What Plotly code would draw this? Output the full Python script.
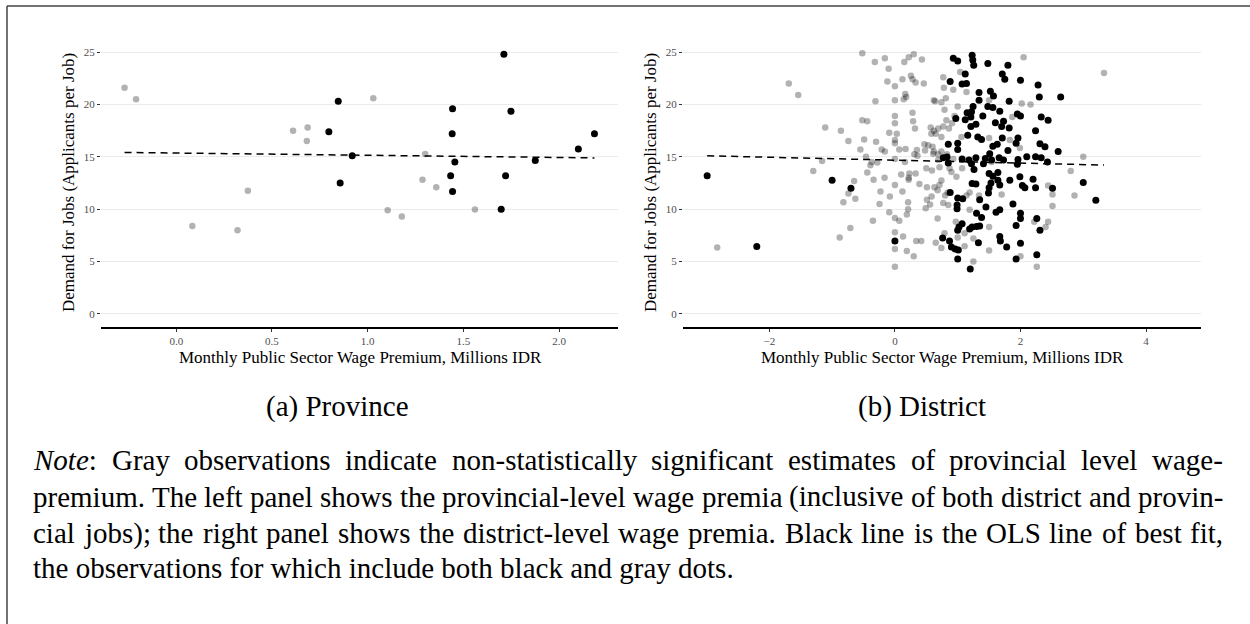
import plotly.graph_objects as go

# ---------------- data ----------------
# (a) Province
prov_gray_x = [-0.27, -0.21, 0.084, 0.32, 0.374, 0.61, 0.686, 0.682, 1.029, 1.104, 1.178, 1.30, 1.286, 1.358, 1.56]
prov_gray_y = [21.6, 20.5, 8.4, 8.0, 11.75, 17.5, 17.8, 16.5, 20.6, 9.9, 9.3, 15.26, 12.8, 12.1, 9.96]
prov_black_x = [0.846, 0.797, 0.919, 0.856, 1.443, 1.441, 1.455, 1.433, 1.443, 1.711, 1.748, 1.72, 1.697, 1.875, 2.10, 2.184]
prov_black_y = [20.3, 17.4, 15.1, 12.5, 19.6, 17.2, 14.5, 13.2, 11.7, 24.8, 19.35, 13.2, 10.0, 14.65, 15.75, 17.2]
prov_fit = [15.36, -0.212]   # intercept, slope

# (b) District
dist_gray = [
    (-2.83, 6.35), (-1.69, 22.0), (-1.54, 20.9), (-1.11, 17.8), (-1.16, 14.6), (-1.30, 13.65), (-0.86, 17.5),
    (-0.74, 16.5), (-0.82, 10.65), (-0.74, 11.5), (-0.65, 12.7), (-0.63, 11.0), (-0.71, 8.2), (-0.88, 7.3),
    (-0.52, 24.9), (-0.55, 15.7), (-0.49, 16.65), (-0.52, 18.5), (-0.44, 18.4), (-0.46, 15.0), (-0.44, 13.5),
    (-0.39, 14.2), (-0.37, 14.5), (-0.34, 12.8), (-0.31, 20.3), (-0.32, 24.05), (-0.30, 16.45), (-0.28, 14.45),
    (-0.23, 11.7), (-0.245, 10.5), (-0.35, 8.9), (-0.16, 24.4), (-0.10, 23.4), (-0.12, 22.2), (-0.21, 15.7),
    (-0.16, 15.5), (-0.165, 13.0), (-0.08, 11.2), (-0.09, 9.7), (-0.09, 17.3), (0.0, 21.75), (0.0, 20.4),
    (0.0, 18.9), (0.0, 18.2), (0.03, 17.2), (0.0, 16.6), (0.0, 16.3), (0.0, 14.8), (0.0, 12.3), (0.0, 9.15),
    (0.07, 8.9), (0.0, 7.8), (0.0, 6.2), (0.0, 4.5), (0.13, 7.4), (0.07, 15.7), (0.10, 13.3), (0.12, 11.7),
    (0.17, 15.75), (0.16, 14.5), (0.19, 9.5), (0.21, 10.0), (0.21, 10.65), (0.12, 22.4), (0.15, 24.05),
    (0.22, 24.5), (0.30, 24.8), (0.255, 22.75), (0.28, 22.4), (0.33, 22.1), (0.43, 24.3), (0.46, 22.0),
    (0.165, 21.0), (0.14, 20.5), (0.18, 20.7), (0.28, 19.2), (0.29, 18.4), (0.32, 17.7), (0.23, 13.4),
    (0.22, 13.0), (0.22, 12.8), (0.33, 13.4), (0.31, 15.25), (0.35, 15.65), (0.36, 15.1), (0.39, 12.4),
    (0.19, 6.0), (0.30, 5.5), (0.34, 6.95), (0.42, 6.95), (0.48, 15.6), (0.47, 16.2), (0.53, 16.1),
    (0.57, 17.8), (0.62, 20.4), (0.64, 20.3), (0.50, 13.9), (0.51, 12.1), (0.51, 10.9), (0.49, 10.1),
    (0.56, 10.45), (0.62, 17.5), (0.58, 17.2), (0.61, 15.3), (0.59, 13.7), (0.69, 14.7), (0.68, 11.8),
    (0.68, 9.1), (0.65, 6.8), (0.585, 11.2),
    (2.05, 24.5), (3.33, 23.0), (1.04, 23.1), (0.77, 22.6), (0.78, 21.6), (0.93, 21.4), (0.81, 20.6),
    (0.74, 20.2), (1.14, 21.2), (0.79, 19.5), (1.0, 19.8), (1.50, 20.4), (2.02, 20.1), (2.16, 20.0),
    (1.87, 18.8), (0.95, 18.9), (0.91, 18.2), (0.82, 18.5), (0.77, 17.9), (0.69, 17.7), (0.65, 17.2),
    (0.86, 17.7), (1.06, 16.9), (0.74, 16.9), (1.50, 16.8), (1.83, 16.6), (1.99, 15.85), (0.60, 15.95),
    (0.62, 15.5), (0.74, 15.5), (0.69, 15.25), (0.83, 15.25), (0.93, 14.8), (1.54, 14.5), (3.0, 15.0),
    (2.80, 13.65), (2.86, 11.3), (0.71, 14.0), (0.87, 13.9), (0.90, 13.55), (0.98, 13.1), (1.07, 13.9),
    (0.74, 12.75), (0.71, 12.3), (0.63, 12.1), (0.84, 11.6), (0.80, 11.3), (0.77, 10.6), (0.85, 10.4),
    (1.19, 11.6), (1.14, 11.3), (1.34, 11.3), (1.70, 11.4), (2.44, 12.25), (2.51, 11.4), (2.51, 10.3),
    (1.19, 9.95), (0.97, 8.8), (1.50, 8.3), (2.44, 8.8), (2.40, 8.3), (2.22, 8.8), (0.79, 7.7), (0.74, 6.3),
    (1.0, 7.3), (1.11, 7.7), (1.25, 7.2), (1.11, 6.45), (1.50, 6.05), (1.25, 5.0), (2.0, 5.5), (2.26, 4.5),
]
dist_black = [
    (-2.99, 13.2), (-2.2, 6.44), (-1.0, 12.76), (-0.70, 12.0), (0.0, 6.95),
    (0.93, 24.4), (1.0, 24.15), (1.23, 24.7), (1.24, 24.25), (1.255, 23.75), (1.48, 23.9), (1.80, 23.75),
    (1.71, 22.9), (1.75, 22.4), (2.0, 22.3), (2.28, 21.85), (2.30, 20.7), (2.64, 20.7), (0.88, 22.2),
    (1.07, 21.95), (1.14, 22.0), (1.12, 22.9), (1.34, 21.15), (1.52, 21.25), (1.57, 20.8), (1.34, 20.4),
    (1.82, 20.3), (1.245, 19.8), (1.22, 19.3), (1.48, 19.8), (1.56, 19.7), (1.67, 19.35), (1.15, 19.2),
    (1.12, 18.55), (0.97, 18.65), (1.21, 18.8), (1.40, 18.9), (1.95, 19.1), (2.0, 18.9), (2.33, 18.8),
    (2.44, 18.5), (1.21, 17.9), (1.29, 18.1), (1.60, 18.25), (1.73, 18.4), (1.70, 17.9), (1.82, 17.75),
    (2.24, 17.5), (1.16, 17.05), (1.32, 16.9), (1.38, 16.65), (1.71, 16.8), (1.96, 16.8), (1.93, 16.3),
    (1.0, 16.3), (0.85, 16.2), (1.63, 16.2), (1.56, 16.0), (1.80, 15.6), (2.31, 16.25), (2.39, 15.95),
    (2.60, 15.5), (1.0, 15.7), (1.51, 15.3), (0.77, 14.9), (0.83, 14.99), (0.85, 14.4), (1.07, 14.8),
    (1.18, 14.7), (1.22, 14.35), (1.29, 14.9), (1.44, 14.85), (1.41, 14.35), (1.54, 14.7), (1.66, 14.9),
    (1.73, 14.7), (1.96, 14.75), (1.95, 14.3), (2.10, 15.0), (2.24, 15.0), (2.33, 14.9), (2.43, 14.5),
    (1.26, 13.8), (1.50, 13.4), (1.56, 13.15), (1.64, 13.5), (1.83, 12.76), (1.99, 13.1), (2.03, 12.25),
    (2.07, 12.05), (2.20, 12.85), (2.24, 12.05), (1.23, 12.45), (1.29, 12.4), (1.53, 12.5), (1.50, 12.05),
    (1.49, 11.55), (1.64, 12.76), (1.67, 12.3), (2.51, 12.0), (3.0, 12.55), (3.20, 10.85), (0.88, 11.6),
    (1.0, 11.07), (1.08, 11.0), (1.35, 10.9), (0.99, 10.4), (0.99, 10.05), (1.45, 10.2), (1.88, 10.5),
    (1.61, 9.7), (1.67, 9.95), (1.30, 9.6), (1.38, 9.2), (2.0, 9.6), (2.0, 9.1), (2.26, 9.1), (1.93, 8.45),
    (2.31, 8.0), (1.02, 8.3), (1.07, 8.6), (1.0, 8.0), (1.19, 8.1), (1.23, 8.3), (1.30, 8.35), (1.35, 8.4),
    (0.76, 7.25), (0.87, 6.95), (0.90, 6.4), (0.96, 6.2), (1.01, 6.1), (1.33, 6.8), (1.67, 7.4), (1.68, 6.95),
    (1.78, 6.4), (2.0, 6.75), (1.0, 5.25), (1.20, 4.3), (1.93, 5.25), (2.26, 5.65),
]
dist_fit = [14.68, -0.14]    # intercept, slope

y_ticks = [0, 5, 10, 15, 20, 25]
prov_x_ticks = [0.0, 0.5, 1.0, 1.5, 2.0]
dist_x_ticks = [-2, 0, 2, 4]

x_title = "Monthly Public Sector Wage Premium, Millions IDR"
y_title = "Demand for Jobs (Applicants per Job)"
captions = ["(a) Province", "(b) District"]
note_lines = [
    "<i>Note</i>: Gray observations indicate non-statistically significant estimates of provincial level wage-",
    "premium. The left panel shows the provincial-level wage premia (inclusive of both district and provin-",
    "cial jobs); the right panel shows the district-level wage premia. Black line is the OLS line of best fit,",
    "the observations for which include both black and gray dots.",
]

# ---------------- helpers ----------------
W, H = 1250, 624
SERIF = "Liberation Serif, Times New Roman, serif"

def PX(px):
    return px / W

def PY(py):
    return 1 - py / H

TIMES = {
    'a': 444, 'b': 500, 'c': 444, 'd': 500, 'e': 444, 'f': 333, 'g': 500, 'h': 500, 'i': 278, 'j': 278,
    'k': 500, 'l': 278, 'm': 778, 'n': 500, 'o': 500, 'p': 500, 'q': 500, 'r': 333, 's': 389, 't': 278,
    'u': 500, 'v': 500, 'w': 722, 'x': 500, 'y': 500, 'z': 444,
    'A': 722, 'B': 667, 'C': 667, 'D': 722, 'E': 611, 'F': 556, 'G': 722, 'H': 722, 'I': 333, 'J': 389,
    'K': 722, 'L': 611, 'M': 889, 'N': 722, 'O': 722, 'P': 556, 'Q': 722, 'R': 667, 'S': 556, 'T': 611,
    'U': 722, 'V': 722, 'W': 944, 'X': 722, 'Y': 722, 'Z': 611,
    ' ': 250, '.': 250, ',': 250, ':': 278, ';': 278, '-': 333, '(': 333, ')': 333,
}

def word_width(w, size):
    plain = w.replace("<i>", "").replace("</i>", "")
    return sum(TIMES.get(c, 500) for c in plain) / 1000 * size

fig = go.Figure()

GRAY = dict(color="rgba(0,0,0,0.3)", size=6.5, line=dict(width=0))
BLACK = dict(color="black", size=7, line=dict(width=0))
DASH = dict(color="black", width=1.5, dash="7px,5px")

# province
fig.add_trace(go.Scatter(x=prov_gray_x, y=prov_gray_y, mode="markers", marker=GRAY,
                         xaxis="x", yaxis="y", showlegend=False))
fig.add_trace(go.Scatter(x=prov_black_x, y=prov_black_y, mode="markers", marker=BLACK,
                         xaxis="x", yaxis="y", showlegend=False))
px_all = prov_gray_x + prov_black_x
pfx = [min(px_all), max(px_all)]
fig.add_trace(go.Scatter(x=pfx, y=[prov_fit[0] + prov_fit[1] * v for v in pfx], mode="lines", line=DASH,
                         xaxis="x", yaxis="y", showlegend=False))

# district
fig.add_trace(go.Scatter(x=[p[0] for p in dist_gray], y=[p[1] for p in dist_gray], mode="markers", marker=GRAY,
                         xaxis="x2", yaxis="y2", showlegend=False))
fig.add_trace(go.Scatter(x=[p[0] for p in dist_black], y=[p[1] for p in dist_black], mode="markers", marker=BLACK,
                         xaxis="x2", yaxis="y2", showlegend=False))
dx_all = [p[0] for p in dist_gray] + [p[0] for p in dist_black]
dfx = [min(dx_all), max(dx_all)]
fig.add_trace(go.Scatter(x=dfx, y=[dist_fit[0] + dist_fit[1] * v for v in dfx], mode="lines", line=DASH,
                         xaxis="x2", yaxis="y2", showlegend=False))

tickfont = dict(family=SERIF, size=11, color="#4d4d4d")
ydom = [PY(327), PY(39)]

def xax(domain, rng, ticks, fmt):
    return dict(domain=domain, range=rng, tickvals=ticks, tickformat=fmt, showline=True, linecolor="black",
                linewidth=1.6, ticks="outside", ticklen=3, tickwidth=1, tickcolor="#333333",
                showgrid=False, zeroline=False, tickfont=tickfont)

def yax(anchor):
    return dict(domain=ydom, range=[-1.25, 26.25], tickvals=y_ticks, showgrid=True, gridcolor="#ebebeb",
                gridwidth=1.1, ticks="outside", ticklen=3, tickwidth=1, tickcolor="#333333",
                showline=False, zeroline=False, tickfont=tickfont, anchor=anchor)

annotations = []
# axis titles
for cx, ytx in [(360, 68), (942, 650)]:
    annotations.append(dict(text=x_title, x=PX(cx), y=PY(357), xref="paper", yref="paper",
                            xanchor="center", yanchor="middle", showarrow=False,
                            font=dict(family=SERIF, size=17, color="black")))
    annotations.append(dict(text=y_title, x=PX(ytx), y=PY(183), xref="paper", yref="paper",
                            xanchor="center", yanchor="middle", showarrow=False, textangle=-90,
                            font=dict(family=SERIF, size=17, color="black")))
# sub-captions
for cap, cx in zip(captions, [338, 922]):
    annotations.append(dict(text=cap, x=PX(cx), y=PY(406), xref="paper", yref="paper",
                            xanchor="center", yanchor="middle", showarrow=False,
                            font=dict(family=SERIF, size=29, color="black")))

# note paragraph (justified lines)
NOTE_SIZE = 29
left, right = 32, 1222
line_y = [460, 497, 533, 568]
for i, (line, ly) in enumerate(zip(note_lines, line_y)):
    if i < 3:
        words = line.split(" ")
        widths = [word_width(w, NOTE_SIZE) for w in words]
        gap = max((right - left - sum(widths)) / (len(words) - 1), 0.2 * NOTE_SIZE)
        xpos = left
        for w, ww in zip(words, widths):
            annotations.append(dict(text=w, x=PX(xpos), y=PY(ly), xref="paper", yref="paper",
                                    xanchor="left", yanchor="middle", showarrow=False, borderpad=0,
                                    font=dict(family=SERIF, size=NOTE_SIZE, color="black")))
            xpos += ww + gap
    else:
        annotations.append(dict(text=line, x=PX(left), y=PY(ly), xref="paper", yref="paper",
                                xanchor="left", yanchor="middle", showarrow=False, borderpad=0,
                                font=dict(family=SERIF, size=NOTE_SIZE, color="black")))

shapes = [
    dict(type="line", xref="paper", yref="paper", x0=PX(7), x1=1, y0=PY(6), y1=PY(6),
         line=dict(color="#444444", width=1.5)),
    dict(type="line", xref="paper", yref="paper", x0=PX(7), x1=PX(7), y0=PY(6), y1=0,
         line=dict(color="#444444", width=1.5)),
]

fig.update_layout(
    width=W, height=H, margin=dict(l=0, r=0, t=0, b=0),
    paper_bgcolor="white", plot_bgcolor="white",
    xaxis=xax([PX(101), PX(618)], [-0.393, 2.307], prov_x_ticks, ".1f") | dict(anchor="y"),
    yaxis=yax("x"),
    xaxis2=xax([PX(683), PX(1201)], [-3.375, 4.875], dist_x_ticks, "d") | dict(anchor="y2"),
    yaxis2=yax("x2"),
    annotations=annotations, shapes=shapes,
    font=dict(family=SERIF),
)

fig.write_html("out.html")
